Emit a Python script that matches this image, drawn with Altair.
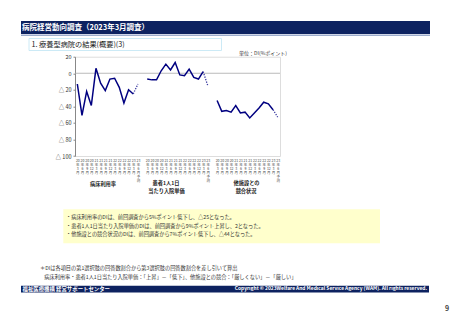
import altair as alt
import pandas as pd

# ---- data ----
periods = [["20", "年", "3", "月"], ["20", "年", "6", "月"], ["20", "年", "9", "月"], ["20", "年", "12", "月"],
           ["21", "年", "3", "月"], ["21", "年", "6", "月"], ["21", "年", "9", "月"], ["21", "年", "12", "月"],
           ["22", "年", "3", "月"], ["22", "年", "6", "月"], ["22", "年", "9", "月"], ["22", "年", "12", "月"],
           ["23", "年", "3", "月"], ["23", "年", "6", "月", "予", "測"]]
groups = ["病床利用率", "患者1人1日当たり入院単価", "他施設との競合状況"]
bed_rate = [-13, -51, -22, -39, 6, -12, -21, -7, -6, -17, -36, -20, -25, -13]
unit_price = [-7, -8, -8, 3, 11, 4, 13, -2, -3, 5, -5, -7, 2, -15]
competition = [-33, -46, -45, -47, -39, -48, -47, -54, -48, -42, -35, -37, -44, -53]
series = [bed_rate, unit_price, competition]
y_ticks = [-100, -80, -60, -40, -20, 0, 20]
notes = ["・病床利用率のDIは、前回調査から5%ポイント低下し、△25となった。",
         "・患者1人1日当たり入院単価のDIは、前回調査から9%ポイント上昇し、2となった。",
         "・他施設との競合状況のDIは、前回調査から7%ポイント低下し、△44となった。"]

# ---- build table ----
cats = []
rows = []
for gi, (g, vals) in enumerate(zip(groups, series)):
    for pi, (p, v) in enumerate(zip(periods, vals)):
        c = f"{gi}|" + "|".join(p)
        cats.append(c)
        if pi <= 12:
            rows.append({"cat": c, "value": v, "grp": g, "kind": "実績", "order": pi})
        if pi >= 12:
            rows.append({"cat": c, "value": v, "grp": g, "kind": "予測", "order": pi})
    if gi < 2:
        cats.append(f"b{gi}")
df = pd.DataFrame(rows)

FONT = "Noto Sans CJK JP"
NAVY = "#000080"
W, H = 205, 99.3
OX, OY = 75, 56.7  # plot origin in page coords

xenc = alt.X("cat:O", scale=alt.Scale(domain=cats, padding=0.5),
             axis=alt.Axis(title=None, labelAngle=0, labelAlign="center", labelBaseline="top",
                           labelFontSize=3.5, labelLineHeight=4, labelPadding=2, ticks=False,
                           labelOverlap=False, labelBound=False, labelColor="#444444",
                           labelFont=FONT, domain=False,
                           labelExpr="indexof(datum.label,'b')==0 ? '' : slice(split(datum.label,'|'),1)"))
yaxis = alt.Axis(title=None, values=y_ticks, grid=False, tickSize=2, tickColor="#888888",
                 domainColor="#888888", labelFontSize=5.5, labelColor="#333333",
                 labelPadding=2, labelFont=FONT, labelOverlap=False, labelFlush=False,
                 labelExpr="datum.value < 0 ? '△ ' + abs(datum.value) : '' + datum.value")
yenc = alt.Y("value:Q", scale=alt.Scale(domain=[-100, 20], nice=False), axis=yaxis)

zero = alt.Chart(pd.DataFrame({"value": [0]})).mark_rule(color="#a8a8a8", strokeWidth=0.8).encode(y=yenc)
solid = alt.Chart(df[df.kind == "実績"]).mark_line(color=NAVY, strokeWidth=1.5).encode(
    x=xenc, y=yenc, detail="grp:N", order="order:Q")
dotted = alt.Chart(df[df.kind == "予測"]).mark_line(color="#3a3aa0", strokeWidth=1.3, strokeDash=[1.3, 1.3]).encode(
    x=xenc, y=yenc, detail="grp:N", order="order:Q")

one = pd.DataFrame({"a": [0]})


def rect(x1, y1, x2, y2, fill, stroke=None, sw=0):
    kw = dict(fill=fill)
    if stroke:
        kw.update(stroke=stroke, strokeWidth=sw)
    return alt.Chart(one).mark_rect(**kw).encode(
        x=alt.value(x1 - OX), x2=alt.value(x2 - OX), y=alt.value(y1 - OY), y2=alt.value(y2 - OY))


def text(s, x, y, size, color="#222222", weight="normal", align="left"):
    return alt.Chart(one).mark_text(text=s, fontSize=size, color=color, fontWeight=weight, align=align,
                                    baseline="middle", font=FONT).encode(
        x=alt.value(x - OX), y=alt.value(y - OY))


decor = [
    rect(21, 21, 430, 34, "#0d2260"),
    rect(21, 34.8, 430, 35.6, "#3d5a9a"),
    text("病院経営動向調査（2023年3月調査）", 22, 27.6, 7.5, "#ffffff", "bold"),
    rect(29, 38.5, 221.5, 50.5, "#ffffff", "#bfe4f4", 0.8),
    text("1. 療養型病院の結果(概要)(3)", 31.5, 44.5, 7.2, "#222222", "normal"),
    text("単位：DI(%ポイント)", 287, 52.5, 5, "#333333", "normal", "right"),
    text("病床利用率", 103, 183.5, 5.2, "#222222", "bold", "center"),
    text("患者1人1日", 166, 182.5, 5.2, "#222222", "bold", "center"),
    text("当たり入院単価", 166.5, 190.5, 5.2, "#222222", "bold", "center"),
    text("他施設との", 246.5, 182.5, 5.2, "#222222", "bold", "center"),
    text("競合状況", 246, 190.5, 5.2, "#222222", "bold", "center"),
    rect(63.3, 209.3, 380, 243.3, "#ffffcc"),
    text(notes[0], 66, 217.3, 5.2, "#333333"),
    text(notes[1], 66, 225.8, 5.2, "#333333"),
    text(notes[2], 66, 234.3, 5.2, "#333333"),
    text("＊DIは各項目の第1選択肢の回答数割合から第3選択肢の回答数割合を差し引いて算出", 40, 267.5, 5.2, "#333333"),
    text("病床利用率・患者1人1日当たり入院単価：「上昇」－「低下」、他施設との競合：「厳しくない」－「厳しい」",
         44.3, 277, 5.2, "#333333"),
    rect(21, 285.7, 429, 292.5, "#0d2260"),
    text("福祉医療機構 経営サポートセンター", 22.5, 289.1, 5.4, "#ffffff", "bold"),
    text("Copyright © 2023Welfare And Medical Service Agency (WAM). All rights reserved.", 427, 289.1, 4.9,
         "#ffffff", "bold", "right"),
    text("9", 447, 309.3, 7, "#444444", "bold", "center"),
]

chart = alt.layer(zero, solid, dotted, *decor).properties(
    width=W, height=H,
    autosize=alt.AutoSizeParams(type="none"),
    padding={"left": OX, "top": OY, "right": 452 - OX - W, "bottom": 320 - OY - H},
    background="#ffffff",
).configure_view(stroke="#8a8acc", strokeWidth=1).configure(font=FONT)

chart.save("out.html", embed_options={"renderer": "svg", "actions": False})
